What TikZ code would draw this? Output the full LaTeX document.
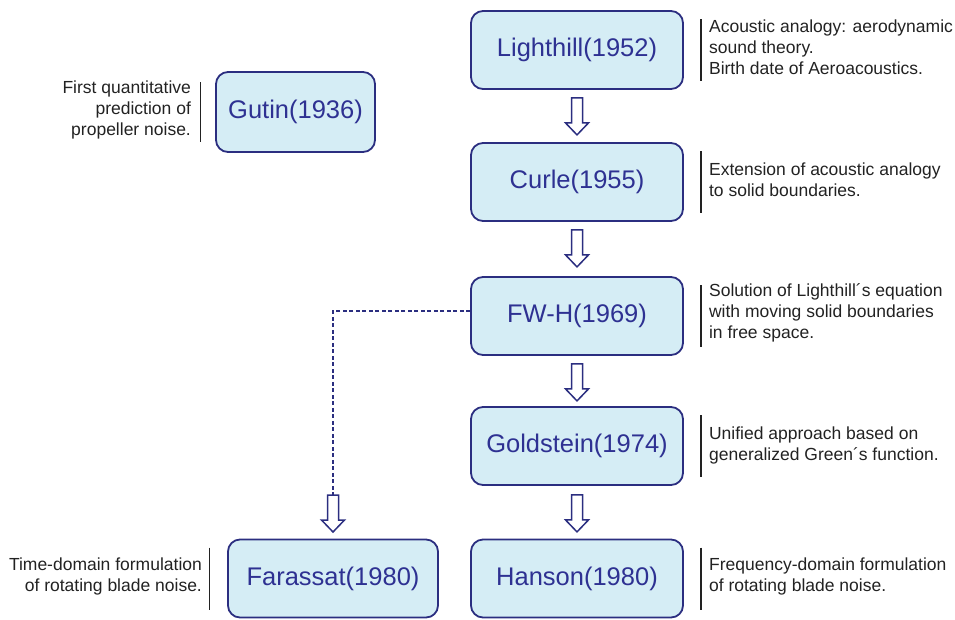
\documentclass[tikz,border=0pt]{standalone}
\usepackage{fontspec}
\setmainfont{Liberation Sans}
\usetikzlibrary{calc}
\definecolor{boxfill}{HTML}{D5EDF5}
\definecolor{boxline}{HTML}{2B2E80}
\definecolor{boxtext}{HTML}{2E3192}
\definecolor{anntext}{HTML}{222222}
\tikzset{
  era/.style={draw=boxline, line width=1.8pt, fill=boxfill, rounded corners=12pt,
    minimum width=212pt, minimum height=78pt, inner sep=0pt,
    text=boxtext, font=\fontsize{25.5}{30}\selectfont},
  annr/.style={anchor=west, align=left, text=anntext, inner sep=0pt,
    font=\fontsize{17.5}{21}\selectfont},
  annl/.style={anchor=east, align=right, text=anntext, inner sep=0pt,
    font=\fontsize{17.5}{21}\selectfont},
  bar/.style={draw=anntext, line width=1.2pt},
  dashlink/.style={draw=boxline, line width=1.2pt, dash pattern=on 4pt off 2.5pt},
  pics/harrow/.style={code={
    \draw[draw=boxline, line width=1.5pt, fill=white, line join=miter]
      (-5.5,0) -- (-5.5,25) -- (-11.5,25) -- (0,37) -- (11.5,25) -- (5.5,25) -- (5.5,0) -- cycle;}}
}
\begin{document}
\begin{tikzpicture}[x=1pt, y=-1pt]
\useasboundingbox (0,0) rectangle (955,619);

% boxes
\node[era] (light) at (577,50) {Lighthill(1952)};
\node[era] (curle) at (577,182) {Curle(1955)};
\node[era] (fwh) at (577,316) {FW-H(1969)};
\node[era] (gold) at (577,446) {Goldstein(1974)};
\node[era] (hans) at (577,578.5) {Hanson(1980)};
\node[era, minimum width=210pt] (fara) at (333,578.5) {Farassat(1980)};
\node[era, minimum width=159pt, minimum height=80pt] (gutin) at (295.5,112) {Gutin(1936)};

% hollow arrows
\path ($(light.south)+(0,8)$) pic {harrow};
\path ($(curle.south)+(0,8)$) pic {harrow};
\path ($(fwh.south)+(0,8)$) pic {harrow};
\path ($(gold.south)+(0,9)$) pic {harrow};
\coordinate (fa) at (fara.north |- 0,495);
\path (fa) pic {harrow};

% dashed link
\draw[dashlink] ($(fwh.west)+(0,-5)$) -| (fa);

% right annotations
\foreach \b in {light,curle,fwh,gold,hans}{
  \draw[bar] ($(\b.east)+(17,-31)$) -- ($(\b.east)+(17,31)$);
}
\node[annr] (alight) at ($(light.east)+(25,-3)$) {Acoustic analogy: aerodynamic\\sound theory.\\Birth date of Aeroacoustics.};
\node[annr] (acurle) at ($(curle.east)+(25,-2)$) {Extension of acoustic analogy\\to solid boundaries.};
\node[annr] (afwh) at ($(fwh.east)+(25,-3)$) {Solution of Lighthill´s equation\\with moving solid boundaries\\in free space.};
\node[annr] (agold) at ($(gold.east)+(25,-1)$) {Unified approach based on\\generalized Green´s function.};
\node[annr] (ahans) at ($(hans.east)+(25,-2)$) {Frequency-domain formulation\\of rotating blade noise.};

% left annotations
\draw[bar] ($(gutin.west)+(-15,-30)$) -- ($(gutin.west)+(-15,30)$);
\node[annl] (agutin) at ($(gutin.west)+(-24,-2)$) {First quantitative\\prediction of\\propeller noise.};
\draw[bar] ($(fara.west)+(-18,-31)$) -- ($(fara.west)+(-18,31)$);
\node[annl] (afara) at ($(fara.west)+(-25,-2)$) {Time-domain formulation\\of rotating blade noise.};
\end{tikzpicture}
\end{document}
